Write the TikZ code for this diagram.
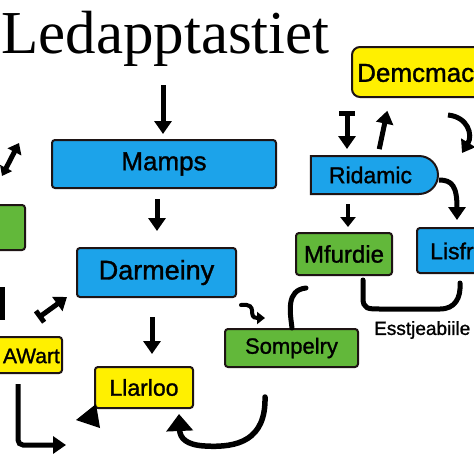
\documentclass[tikz,border=0pt]{standalone}
\usepackage{fontspec}
\setmainfont{Liberation Serif}
\setsansfont{Liberation Sans}[BoldFont=Liberation Sans, BoldFeatures={FakeBold=1.2}]
\usetikzlibrary{arrows.meta,calc,shapes.misc}
\definecolor{bxblue}{RGB}{28,163,234}
\definecolor{bxyellow}{RGB}{255,240,0}
\definecolor{bxgreen}{RGB}{98,184,58}
\definecolor{bxline}{RGB}{30,20,20}
\tikzset{
  box/.style={draw=bxline, line width=2pt, rounded corners=3pt, inner sep=0pt, font=\sffamily},
  fs/.style={font=\sffamily\bfseries\fontsize{#1}{#1}\selectfont},
  conn/.style={line width=5pt, -{Triangle[width=17pt,length=13pt]}},
  plain/.style={line width=5pt, line cap=round},
}
\begin{document}
\begin{tikzpicture}[x=1pt,y=-1pt]
\useasboundingbox (0,0) rectangle (474,474);
\fill[white] (0,0) rectangle (474,474);

% title
\node[anchor=base west, inner sep=0pt, font=\fontsize{61}{61}\selectfont] (title) at (1,53) {Ledapptastiet};

% boxes
\node[box, fill=bxyellow, rounded corners=8pt, minimum width=140pt, minimum height=50pt] (dem) at (422,72) {};
\node[fs=26, anchor=west, inner sep=0pt] (demt) at (357,73) {Demcmac};

\node[box, fill=bxblue, minimum width=224pt, minimum height=48pt, fs=26] (mamps) at (164,164) {Mamps};
\node[box, fill=bxblue, minimum width=159pt, minimum height=49pt, fs=27] (darm) at (156.5,272.5) {Darmeiny};
\node[box, fill=bxgreen, minimum width=36pt, minimum height=45pt] (gleft) at (7,227.5) {};

\node[box, fill=bxyellow, minimum width=74pt, minimum height=36pt] (awart) at (25,355) {};
\node[fs=21, anchor=east, inner sep=0pt] (awartt) at (60,356) {AWart};

\node[box, fill=bxyellow, minimum width=98pt, minimum height=41pt, fs=23] (llar) at (144,387.5) {Llarloo};

\node[draw=bxline, line width=2pt, fill=bxblue, rounded rectangle, rounded rectangle left arc=none,
      minimum width=127pt, minimum height=38pt, inner sep=0pt, fs=23] (rid) at (373.5,175) {\hspace*{-6pt}Ridamic};

\node[box, fill=bxgreen, minimum width=96pt, minimum height=42pt, fs=24] (mf) at (344,254) {Mfurdie};

\node[box, fill=bxblue, minimum width=76pt, minimum height=45pt] (lisfr) at (455,250.5) {};
\node[fs=23, anchor=west, inner sep=0pt] (lisfrt) at (430,251) {Lisfr};

\node[box, fill=bxgreen, minimum width=133pt, minimum height=38pt, fs=22] (somp) at (291.5,348) {Sompelry};

\node[fs=19, anchor=west, inner sep=0pt] (esst) at (374,330) {Esstjeabiile};

% connectors
\coordinate (tArr) at (163,85);
\draw[conn, shorten >=5pt] (tArr) -- (tArr |- mamps.north);
\draw[conn, shorten <=10pt, shorten >=16pt] ([xshift=-7pt]mamps.south) -- ([xshift=0.5pt]darm.north);
\draw[conn, shorten <=19pt, shorten >=12pt] ([xshift=-4.5pt]darm.south) -- ([xshift=8pt]llar.north);

\draw[line width=5pt, {Bar[width=16pt]}-{Triangle[width=17pt,length=13pt]}, shorten <=13pt, shorten >=6pt]
  ($(dem.south)+(-75,0)$) -- ($(rid.north)+(-26.5,0)$);
\draw[conn, shorten <=6pt, shorten >=13pt] ($(rid.north)+(4.5,0)$) -- ($(dem.south)+(-32,0)$);

\coordinate (dR) at (448,115);
\draw[line width=5pt, -{Triangle[width=16pt,length=12pt]}] (dR) .. controls (468,117) and (473,135) .. (462,153);

\draw[conn] ($(rid.east)+(0,5)$) .. controls (452,180) and (457,186) .. ($(lisfr.north)+(2,-7)$);

\draw[line width=4.5pt, -{Triangle[width=15pt,length=10pt]}, shorten <=9pt, shorten >=5pt]
  ($(rid.south)+(-25.5,0)$) -- ($(mf.north)+(4,0)$);

% U connector Mfurdie -- Lisfr
\draw[plain] ($(mf.south)+(19,4)$) -- (363,298) .. controls (363,309) and (368,309) .. (380,309)
  -- (440,309) .. controls (455,309) and (461,298) .. ($(lisfr.south)+(5,9)$);

% hook above Sompelry
\coordinate (hk) at (306,288);
\draw[plain] ($(somp.north)+(0.5,0)$) .. controls (290,312) and (286,290) .. (hk);

% squiggle arrow left of Sompelry
\coordinate (sq) at (241,305);
\draw[line width=4pt, line cap=round, -{Triangle[width=12pt,length=8pt]}] (sq) .. controls (260,303) and (246,318) .. (265,318);

% bottom curved arrow to Llarloo
\coordinate (cb) at (265,397);
\draw[line width=5.5pt, line cap=round, -{Triangle[width=26pt,length=17pt]}]
  (cb) .. controls (266,440) and (238,448) .. (205,446) .. controls (186,445) and (180,438) .. ($(llar.south)+(35,5)$);

% left side arrows
\coordinate (aw1) at ($(awart.south)+(-7,10)$);
\coordinate (aw2) at (66,445);
\draw[conn, rounded corners=5pt] (aw1) |- (aw2);

\coordinate (aa) at (38,318);
\draw[line width=5pt, {Bar[width=14pt]}-{Triangle[width=17pt,length=12pt]}] (aa) -- (67,297);

\fill (76,420) -- (96,404) -- (100,428) -- cycle;

\coordinate (lv) at (2,287);
\draw[line width=5pt] (lv) -- (2,320);

\coordinate (tl) at (2,176);
\draw[line width=5pt, {Triangle[width=13pt,length=9pt]}-{Triangle[width=15pt,length=10pt]}] (tl) -- (19,143);

\end{tikzpicture}
\end{document}
